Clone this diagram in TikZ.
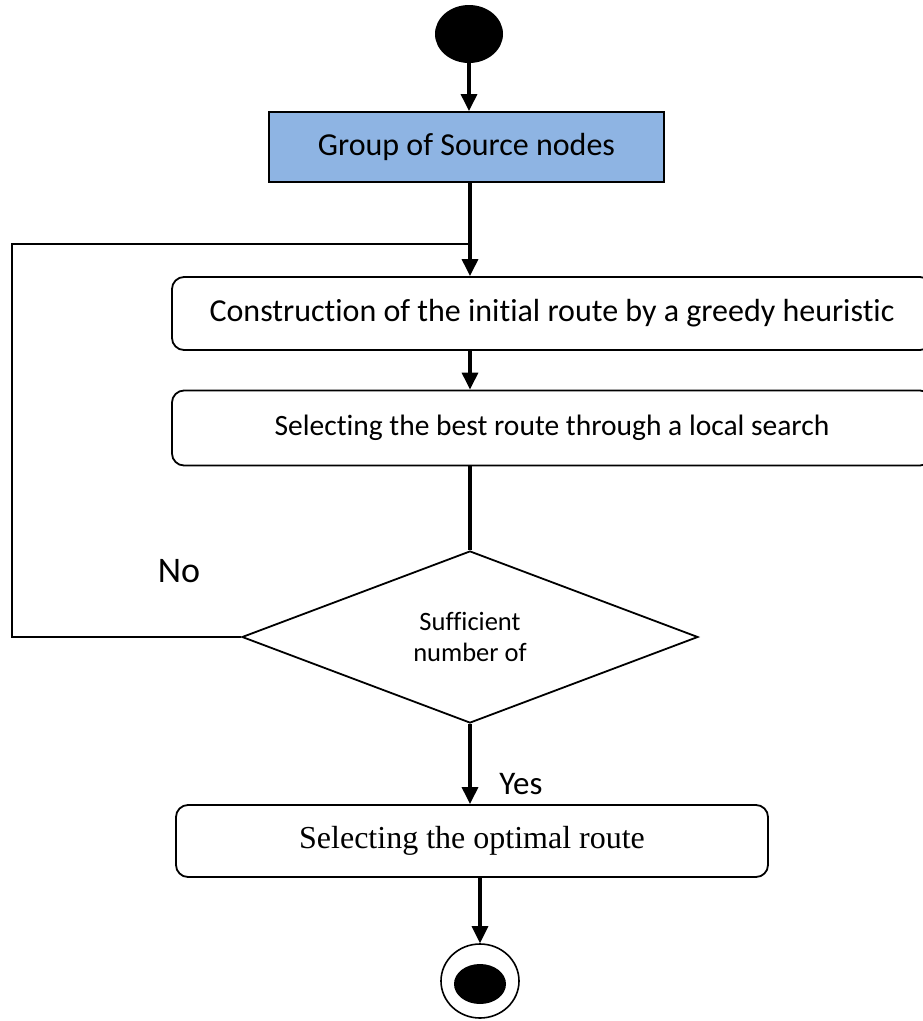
\documentclass[tikz,border=0pt]{standalone}
\usepackage{fontspec}
\setmainfont[Ligatures={NoCommon}]{Carlito}
\newfontfamily\serifface{Liberation Serif}
\usetikzlibrary{arrows.meta,shapes.geometric}
\definecolor{srcblue}{RGB}{142,180,227}
\begin{document}
\begin{tikzpicture}[x=1pt,y=-1pt,
  flow/.style={line width=3.2pt,-{Triangle[width=16pt,length=17pt]}},
  plain/.style={line width=3.2pt},
  loopline/.style={line width=2.2pt},
  procbox/.style={draw,line width=1.8pt,rounded corners=12pt,inner sep=0pt,align=center},
]
\useasboundingbox (0,0) rectangle (923,1021);

% start and end markers
\node[ellipse,fill=black,minimum width=68pt,minimum height=58pt,inner sep=0pt] (start) at (469,34) {};
\node[ellipse,draw,line width=1.6pt,minimum width=78pt,minimum height=74pt,inner sep=0pt] (stop) at (480,981) {};
\node[ellipse,fill=black,minimum width=52pt,minimum height=40pt,inner sep=0pt] (stopdot) at (480,984) {};

% process steps
\node[draw,fill=srcblue,line width=1.8pt,minimum width=395pt,minimum height=70pt,inner sep=0pt,
      font=\fontsize{32}{36}\selectfont] (src) at (466.5,147) {Group of Source nodes};
\node[procbox,minimum width=760pt,minimum height=73pt,font=\fontsize{32}{36}\selectfont]
      (init) at (552,313.5) {Construction of the initial route by a greedy heuristic};
\node[procbox,minimum width=760pt,minimum height=75pt,font=\fontsize{29.5}{34}\selectfont]
      (best) at (552,428) {Selecting the best route through a local search};
\node[diamond,draw,line width=1.8pt,minimum width=456pt,minimum height=172pt,inner sep=0pt,
      align=center,font=\fontsize{26.5}{31}\selectfont] (dec) at (470,637) {Sufficient\\number of};
\node[procbox,minimum width=592pt,minimum height=72pt,font=\serifface\fontsize{32}{36}\selectfont]
      (opt) at (472,841) {Selecting the optimal route};

% connectors
\draw[flow] (start.south) -- (start.south |- src.north);
\draw[flow] (dec.north |- src.south) -- (dec.north |- init.north);
\draw[flow] (dec.north |- init.south) -- (dec.north |- best.north);
\draw[plain] (dec.north |- best.south) -- (dec.north);
\draw[flow] (dec.south) -- (dec.south |- opt.north);
\draw[flow] (stop.north |- opt.south) -- (stop.north);

% loop back when the answer is no
\coordinate (looptop) at (12,244);
\draw[loopline] (dec.west) -| (looptop) -- (looptop -| dec.north);

% branch labels
\node[font=\fontsize{36}{40}\selectfont] (nolabel) at (179,571) {No};
\node[font=\fontsize{33}{38}\selectfont] (yeslabel) at (521,784) {Yes};
\end{tikzpicture}
\end{document}
